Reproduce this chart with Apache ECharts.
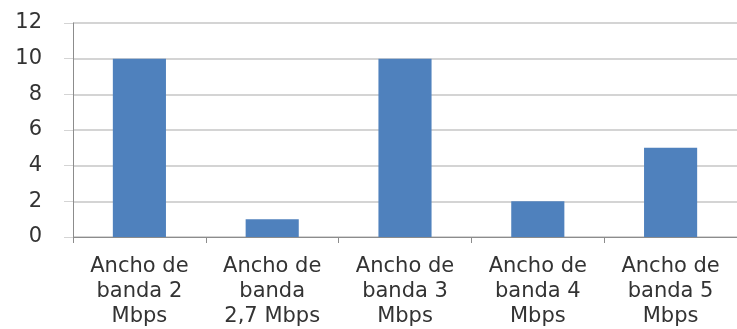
<!DOCTYPE html>
<html>
<head>
<meta charset="utf-8">
<script src="https://cdn.jsdelivr.net/npm/echarts@6/dist/echarts.min.js"></script>
<style>
  html, body { margin: 0; padding: 0; background: #fff; }
  #container { width: 737px; height: 329px; }
</style>
</head>
<body>
<div id="container"></div>
<script>
var categories = [
  'Ancho de\nbanda 2\nMbps',
  'Ancho de\nbanda\n2,7 Mbps',
  'Ancho de\nbanda 3\nMbps',
  'Ancho de\nbanda 4\nMbps',
  'Ancho de\nbanda 5\nMbps'
];
var values = [10, 1, 10, 2, 5];
var yTicks = { min: 0, max: 12, interval: 2 };

var myChart = echarts.init(document.getElementById('container'));

var option = {
  backgroundColor: '#fff',
  animation: false,
  grid: { left: 73, right: -3, top: 23, bottom: 91, containLabel: false },
  xAxis: {
    type: 'category',
    data: categories,
    axisLine: { lineStyle: { color: '#8c8c8c', width: 1 } },
    axisTick: { show: true, length: 6, alignWithLabel: false, lineStyle: { color: '#8c8c8c' } },
    axisLabel: {
      interval: 0,
      margin: 17,
      color: '#333',
      fontFamily: 'DejaVu Sans',
      fontSize: 21,
      lineHeight: 25
    }
  },
  yAxis: {
    type: 'value',
    min: yTicks.min,
    max: yTicks.max,
    interval: yTicks.interval,
    axisLine: { show: true, lineStyle: { color: '#8c8c8c', width: 1 } },
    axisTick: { show: true, length: 9, lineStyle: { color: '#d4d4d4' } },
    splitLine: { show: true, lineStyle: { color: '#d4d4d4', width: 2 } },
    axisLabel: {
      margin: 31,
      color: '#333',
      fontFamily: 'DejaVu Sans',
      fontSize: 21
    }
  },
  series: [{
    type: 'bar',
    data: values,
    barWidth: '40%',
    itemStyle: { color: '#4f81bd' }
  }]
};

myChart.setOption(option);
</script>
</body>
</html>
